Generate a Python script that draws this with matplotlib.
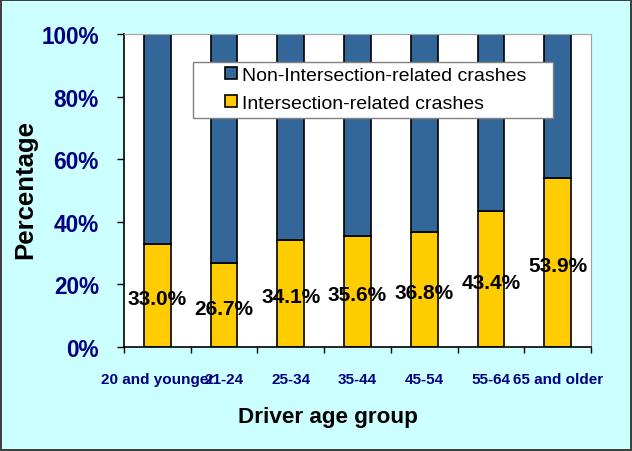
import numpy as np
import matplotlib
matplotlib.use('Agg')
import matplotlib.pyplot as plt
from matplotlib.patches import Rectangle

plt.rcParams['font.family'] = ['Liberation Sans', 'DejaVu Sans']

# 数据
age_groups = ['20 and younger', '21-24', '25-34', '35-44', '45-54', '55-64', '65 and older']
intersection = [33.0, 26.7, 34.1, 35.6, 36.8, 43.4, 53.9]
non_intersection = [100 - v for v in intersection]

blue = '#336699'
yellow = '#FFCC00'
navy = '#000080'
W, H = 632, 452

fig = plt.figure(figsize=(6.32, 4.52), dpi=100)
fig.patch.set_facecolor('#CCFFFF')
fig.patch.set_edgecolor('#404040')
fig.patch.set_linewidth(1.5)
ax = fig.add_axes([124 / W, 1 - 348 / H, (591 - 124) / W, (348 - 35) / H])

ind = np.arange(len(age_groups))
width = 0.4
b1 = ax.bar(ind, intersection, width, color=yellow, edgecolor='black', linewidth=1.2,
            label='Intersection-related crashes')
b2 = ax.bar(ind, non_intersection, width, bottom=intersection, color=blue, edgecolor='black',
            linewidth=1.2, label='Non-Intersection-related crashes')

for i, v in enumerate(intersection):
    ax.text(i, v / 2 - 1.0, '{:.1f}%'.format(v), ha='center', va='center',
            fontsize=15, fontweight='bold', color='black', zorder=3)

ax.set_xlim(-0.5, len(age_groups) - 0.5)
ax.set_ylim(0, 100)
ax.set_yticks(np.arange(0, 101, 20))
ax.set_yticklabels(['{}%'.format(v) for v in range(0, 101, 20)])
ax.tick_params(axis='y', labelsize=16.3, labelcolor=navy, length=5, width=1, pad=13)
for t in ax.get_yticklabels():
    t.set_fontweight('bold')

ax.set_xticks(ind)
ax.set_xticklabels(age_groups)
ax.tick_params(axis='x', which='major', length=0, labelsize=11, labelcolor=navy, pad=18)
for t in ax.get_xticklabels():
    t.set_fontweight('bold')
ax.set_xticks(np.arange(-0.5, len(age_groups), 1), minor=True)
ax.tick_params(axis='x', which='minor', length=4, width=1)

ax.spines['top'].set_color('#A0A0A0')
ax.spines['right'].set_color('#A0A0A0')
ax.spines['left'].set_linewidth(1.2)
ax.spines['bottom'].set_linewidth(1.2)

fig.text(25 / W, 1 - 190 / H, 'Percentage', rotation=90, ha='center', va='center',
         fontsize=18.5, fontweight='bold')
fig.text(328 / W, 1 - 417 / H, 'Driver age group', ha='center', va='center',
         fontsize=16.2, fontweight='bold')

# 图例框
box = Rectangle((193 / W, 1 - 119 / H), 360 / W, 56 / H, transform=fig.transFigure,
                facecolor='white', edgecolor='#808080', linewidth=1, zorder=4)
ax.add_patch(box)
box.set_clip_on(False)

leg = ax.legend(handles=[b2, b1], loc='upper left',
                bbox_to_anchor=(225 / W, 1 - 68 / H), bbox_transform=fig.transFigure,
                fontsize=14, frameon=False,
                handlelength=0.6, handleheight=0.6, handletextpad=0.25, borderpad=0,
                labelspacing=0.55, borderaxespad=0)
leg.set_zorder(5)
for p in leg.legend_handles:
    p.set_linewidth(1.2)

plt.savefig('out.png', facecolor=fig.get_facecolor(), edgecolor=fig.get_edgecolor())
